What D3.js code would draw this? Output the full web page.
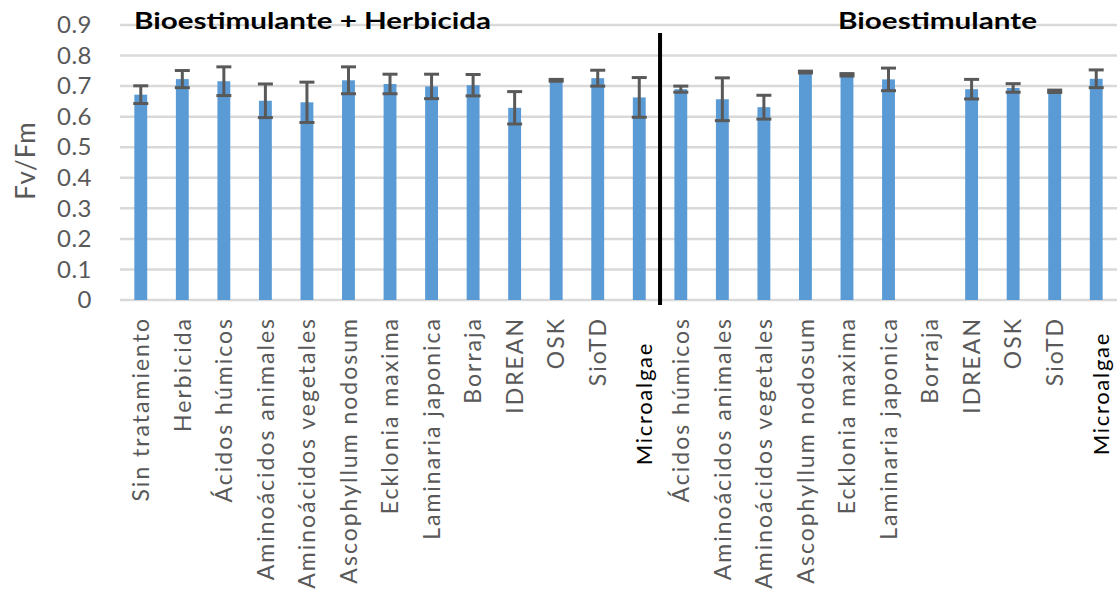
<!DOCTYPE html>
<html>
<head>
<meta charset="utf-8">
<script src="https://cdn.jsdelivr.net/npm/d3@7"></script>
<style>
  html, body { margin: 0; padding: 0; background: #fff; }
  svg { display: block; }
  text { font-family: Lato, "Open Sans", sans-serif; }
</style>
</head>
<body>
<svg id="chart" width="1117" height="598"></svg>
<script>
// Fv/Fm by treatment: bioestimulant + herbicide vs. bioestimulant alone
const groupA = ["Sin tratamiento", "Herbicida", "Ácidos húmicos", "Aminoácidos animales",
  "Aminoácidos vegetales", "Ascophyllum nodosum", "Ecklonia maxima", "Laminaria japonica",
  "Borraja", "IDREAN", "OSK", "SioTD", "Microalgae"];
const valuesA = [0.672, 0.723, 0.716, 0.652, 0.647, 0.719, 0.707, 0.699, 0.703, 0.629, 0.719, 0.726, 0.663];
const errorsA = [0.029, 0.028, 0.047, 0.055, 0.066, 0.044, 0.032, 0.040, 0.035, 0.053, 0.003, 0.026, 0.065];

const groupB = ["Ácidos húmicos", "Aminoácidos animales", "Aminoácidos vegetales",
  "Ascophyllum nodosum", "Ecklonia maxima", "Laminaria japonica", "Borraja",
  "IDREAN", "OSK", "SioTD", "Microalgae"];
const valuesB = [0.690, 0.657, 0.631, 0.746, 0.737, 0.722, null, 0.690, 0.694, 0.683, 0.724];
const errorsB = [0.010, 0.070, 0.039, 0.003, 0.004, 0.037, null, 0.032, 0.014, 0.004, 0.029];

const groupTitles = ["Bioestimulante + Herbicida", "Bioestimulante"];
const yTicks = [0, 0.1, 0.2, 0.3, 0.4, 0.5, 0.6, 0.7, 0.8, 0.9];
const yTickLabels = ["0", "0.1", "0.2", "0.3", "0.4", "0.5", "0.6", "0.7", "0.8", "0.9"];
const yTitle = "Fv/Fm";

const rows = [
  ...groupA.map((name, i) => ({ key: "A" + i, name, value: valuesA[i], err: errorsA[i], group: 0 })),
  ...groupB.map((name, i) => ({ key: "B" + i, name, value: valuesB[i], err: errorsB[i], group: 1 }))
];

const svg = d3.select("#chart");
const plot = { left: 120, right: 1117, top: 25, bottom: 300 };

const x = d3.scaleBand()
  .domain(rows.map(d => d.key))
  .range([plot.left, plot.right])
  .paddingInner(0.69)
  .paddingOuter(0.345);

const y = d3.scaleLinear().domain([0, 0.9]).range([plot.bottom, plot.top]);

// horizontal gridlines
svg.append("g").selectAll("line")
  .data(yTicks)
  .join("line")
  .attr("x1", plot.left).attr("x2", plot.right)
  .attr("y1", d => y(d)).attr("y2", d => y(d))
  .attr("stroke", "#d9d9d9").attr("stroke-width", 2.5);

// y axis labels
const yAxis = d3.axisLeft(y)
  .tickValues(yTicks)
  .tickFormat((d, i) => yTickLabels[i])
  .tickSize(0)
  .tickPadding(28);
const gy = svg.append("g").attr("transform", `translate(${plot.left},0)`).call(yAxis);
gy.select(".domain").remove();
gy.selectAll("text")
  .attr("fill", "#595959")
  .style("font-size", "24px")
  .style("letter-spacing", "0.5px")
  .style("font-family", "Lato, 'Open Sans', sans-serif");

svg.append("text")
  .attr("transform", `translate(35,${(plot.top + plot.bottom) / 2 - 2}) rotate(-90)`)
  .attr("text-anchor", "middle")
  .attr("fill", "#595959")
  .style("font-size", "26px")
  .style("letter-spacing", "1px")
  .text(yTitle);

// bars
const valid = rows.filter(d => d.value != null);
svg.append("g").selectAll("rect")
  .data(valid)
  .join("rect")
  .attr("x", d => x(d.key))
  .attr("width", x.bandwidth())
  .attr("y", d => y(d.value))
  .attr("height", d => y(0) - y(d.value))
  .attr("fill", "#5b9bd5");

// error bars
const eb = svg.append("g").attr("stroke", "#595959").attr("stroke-width", 3);
const cx = d => x(d.key) + x.bandwidth() / 2;
const capHalf = 7.5;
eb.selectAll("line.stem").data(valid).join("line").attr("class", "stem")
  .attr("x1", cx).attr("x2", cx)
  .attr("y1", d => y(d.value + d.err)).attr("y2", d => y(d.value - d.err));
eb.selectAll("line.capTop").data(valid).join("line").attr("class", "capTop")
  .attr("x1", d => cx(d) - capHalf).attr("x2", d => cx(d) + capHalf)
  .attr("y1", d => y(d.value + d.err)).attr("y2", d => y(d.value + d.err));
eb.selectAll("line.capBot").data(valid).join("line").attr("class", "capBot")
  .attr("x1", d => cx(d) - capHalf).attr("x2", d => cx(d) + capHalf)
  .attr("y1", d => y(d.value - d.err)).attr("y2", d => y(d.value - d.err));

// category labels
const xAxis = d3.axisBottom(x)
  .tickFormat(k => rows.find(r => r.key === k).name)
  .tickSize(0)
  .tickPadding(0);
const gx = svg.append("g").attr("transform", `translate(0,${plot.bottom})`).call(xAxis);
gx.select(".domain").remove();
gx.selectAll("text")
  .attr("transform", "rotate(-90)")
  .attr("text-anchor", "end")
  .attr("x", -17)
  .attr("y", 0)
  .attr("dy", "0.36em")
  .attr("fill", "#595959")
  .style("font-size", "23px")
  .style("letter-spacing", "2px")
  .style("font-family", "Lato, 'Open Sans', sans-serif");
// the last item of each group is set apart in black, a little lower
gx.selectAll(".tick")
  .filter(k => rows.find(d => d.key === k).name === "Microalgae")
  .select("text")
  .attr("fill", "#000")
  .attr("x", k => k.startsWith("A") ? -42 : -32)
  .attr("dy", "0.6em")
  .style("font-size", "22px")
  .style("letter-spacing", "1.7px");

// group separator
const sepX = (x("A12") + x.bandwidth() + x("B0")) / 2;
svg.append("line")
  .attr("x1", sepX).attr("x2", sepX)
  .attr("y1", 33).attr("y2", 305)
  .attr("stroke", "#000").attr("stroke-width", 4);

// group titles
svg.append("text")
  .attr("x", 134).attr("y", 29)
  .attr("fill", "#000")
  .attr("textLength", 357)
  .attr("lengthAdjust", "spacingAndGlyphs")
  .style("font-size", "22px").style("font-weight", "bold")
  .text(groupTitles[0]);
svg.append("text")
  .attr("x", 838).attr("y", 29)
  .attr("fill", "#000")
  .attr("textLength", 199)
  .attr("lengthAdjust", "spacingAndGlyphs")
  .style("font-size", "22px").style("font-weight", "bold")
  .text(groupTitles[1]);
</script>
</body>
</html>
